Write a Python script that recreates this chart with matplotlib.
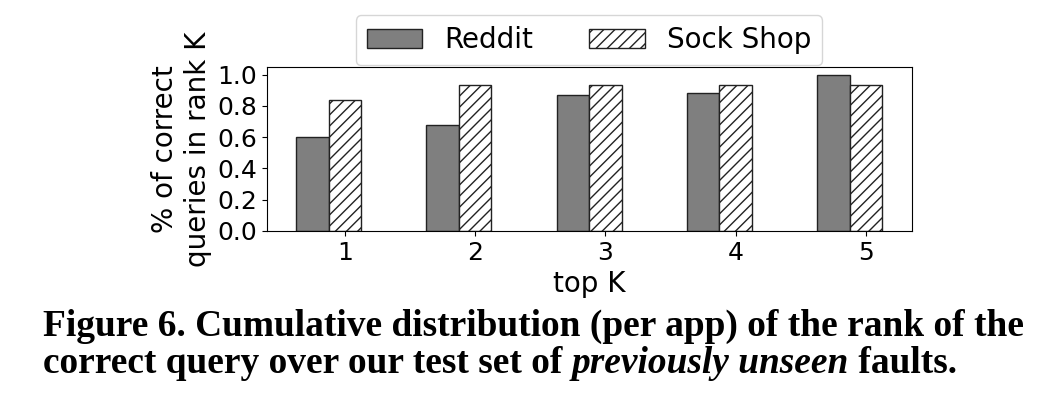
import numpy as np
import matplotlib
matplotlib.use('Agg')
import matplotlib.pyplot as plt

top_k = [1, 2, 3, 4, 5]
reddit = [0.60, 0.675, 0.87, 0.88, 1.0]
sock_shop = [0.84, 0.935, 0.935, 0.935, 0.935]
series_names = ['Reddit', 'Sock Shop']
caption_1 = 'Figure 6. Cumulative distribution (per app) of the rank of the'
caption_2 = ['correct query over our test set of ', 'previously unseen', ' faults.']

plt.rcParams['font.family'] = 'DejaVu Sans'
plt.rcParams['hatch.linewidth'] = 1.0

fig = plt.figure(figsize=(10.52, 3.98), dpi=100)
ax = fig.add_axes([0.2535, 0.4196, 0.613, 0.4128])

x = np.array(top_k)
w = 0.25
ax.bar(x - w, reddit, w, color='#7f7f7f', edgecolor='#222222', linewidth=1, label=series_names[0])
ax.bar(x, sock_shop, w, color='white', edgecolor='#222222', hatch='///', linewidth=1, label=series_names[1])

ax.set_xticks(x)
ax.set_yticks([0.0, 0.2, 0.4, 0.6, 0.8, 1.0])
ax.tick_params(labelsize=18)
ax.set_xlabel('top K', fontsize=20)
ax.set_ylabel('% of correct\nqueries in rank K', fontsize=20)
ax.legend(loc='lower center', bbox_to_anchor=(0.5, 1.0), ncol=2, fontsize=20, borderaxespad=0.05)

# caption below the plot, sized to the reference width
cap = dict(family='Liberation Serif', weight='bold', fontsize=25)
t1 = fig.text(43 / 1052, 1 - 336 / 398, caption_1, ha='left', va='baseline', **cap)
fig.canvas.draw()
wpx = t1.get_window_extent().width
size = 25 * 980 / wpx
t1.set_fontsize(size)
cap['fontsize'] = size
t2 = fig.text(43 / 1052, 1 - 373 / 398, caption_2[0], ha='left', va='baseline', **cap)
t3 = ax.annotate(caption_2[1], xy=(1, 0), xycoords=t2, ha='left', va='bottom',
                 style='italic', annotation_clip=False, **cap)
t4 = ax.annotate(caption_2[2], xy=(1, 0), xycoords=t3, ha='left', va='bottom',
                 annotation_clip=False, **cap)

fig.savefig('out.png', dpi=100)
